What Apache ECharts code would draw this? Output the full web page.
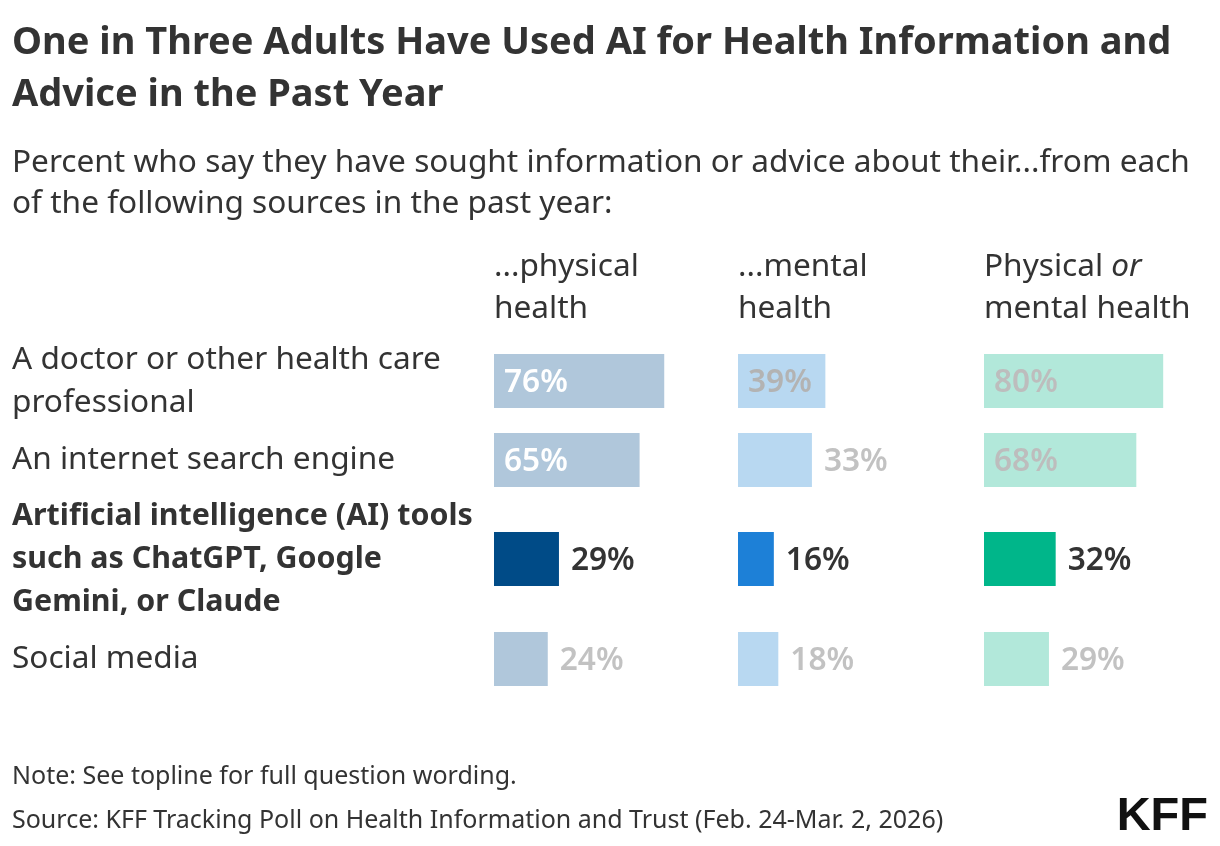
<!DOCTYPE html>
<html>
<head>
<meta charset="utf-8">
<script src="https://cdn.jsdelivr.net/npm/echarts@6/dist/echarts.min.js"></script>
<style>
html,body{margin:0;padding:0;background:#fff;}
#chart{width:1220px;height:846px;}
</style>
</head>
<body>
<div id="chart"></div>
<script>
// ---- Data ----
const categories = [
  "A doctor or other health care\nprofessional",
  "An internet search engine",
  "Artificial intelligence (AI) tools\nsuch as ChatGPT, Google\nGemini, or Claude",
  "Social media"
];
const physicalHealth = [76, 65, 29, 24];
const mentalHealth = [39, 33, 16, 18];
const physicalOrMental = [80, 68, 32, 29];
const highlightRow = 2;
const columnHeaders = ["...physical\nhealth", "...mental\nhealth", "Physical {i|or}\nmental health"];

const titleText = "One in Three Adults Have Used AI for Health Information and\nAdvice in the Past Year";
const subtitleText = "Percent who say they have sought information or advice about their...from each\nof the following sources in the past year:";
const noteText = "Note: See topline for full question wording.";
const sourceText = "Source: KFF Tracking Poll on Health Information and Trust (Feb. 24-Mar. 2, 2026)";

// ---- Style / layout ----
const FONT = "'Noto Sans', 'Source Sans Pro', Lato, sans-serif";
const TEXT = "#333333";
const BODY = 31.6;
const columns = [
  {values: physicalHealth, left: 494, faded: "#b0c7db", strong: "#004b87", insideColor: "#ffffff"},
  {values: mentalHealth, left: 738, faded: "#b8d8f1", strong: "#1d80d7", insideColor: "#b3b3b3"},
  {values: physicalOrMental, left: 984, faded: "#b2e8da", strong: "#00b68a", insideColor: "#bdbdbd"}
];
const rowCenters = [381, 460, 559, 659];
const barH = 54;
const colWidth = 224;
const insideThreshold = 35;

const grids = [], xAxes = [], yAxes = [], series = [];
columns.forEach((col, c) => {
  rowCenters.forEach((cy, r) => {
    const gi = grids.length;
    const hi = r === highlightRow;
    grids.push({left: col.left, top: cy - barH / 2, width: colWidth, height: barH, containLabel: false});
    xAxes.push({type: 'value', gridIndex: gi, min: 0, max: 100, show: false});
    yAxes.push({
      type: 'category', gridIndex: gi, data: [categories[r]],
      axisLine: {show: false}, axisTick: {show: false}, splitLine: {show: false},
      axisLabel: {
        show: c === 0, align: 'left', margin: col.left - 12,
        fontFamily: FONT, fontSize: hi ? 30.4 : BODY, lineHeight: 43, color: TEXT,
        padding: [8, 0, 0, 0],
        fontWeight: hi ? 'bold' : 'normal'
      }
    });
    const v = col.values[r];
    const inside = !hi && v >= insideThreshold;
    series.push({
      type: 'bar', xAxisIndex: gi, yAxisIndex: gi, barWidth: '100%',
      silent: true,
      data: [{
        value: v,
        itemStyle: {color: hi ? col.strong : col.faded},
        label: {
          show: true,
          position: inside ? 'insideLeft' : 'right',
          distance: inside ? 10 : 12,
          offset: [0, 2],
          formatter: '{c}%',
          fontFamily: FONT, fontSize: BODY, fontWeight: 600,
          color: hi ? TEXT : (inside ? col.insideColor : '#c2c2c2')
        }
      }]
    });
  });
});

const titles = [
  {text: titleText, left: 12, top: 17, padding: 0,
   textStyle: {fontFamily: FONT, fontSize: 38, fontWeight: 'bold', color: TEXT, lineHeight: 52}},
  {text: subtitleText, left: 12, top: 142, padding: 0,
   textStyle: {fontFamily: FONT, fontSize: BODY, fontWeight: 'normal', color: TEXT, lineHeight: 41}},
  {text: noteText, left: 12, top: 764, padding: 0,
   textStyle: {fontFamily: FONT, fontSize: 25, fontWeight: 'normal', color: TEXT}},
  {text: sourceText, left: 12, top: 808, padding: 0,
   textStyle: {fontFamily: FONT, fontSize: 25, fontWeight: 'normal', color: TEXT}},
  {text: "KFF", right: 12, top: 794, padding: 0,
   textStyle: {fontFamily: "'Liberation Sans', Arial, sans-serif", fontSize: 47, fontWeight: 'bold', color: '#111111'}}
];
columns.forEach((col, c) => {
  titles.push({
    text: columnHeaders[c], left: col.left, top: 246, padding: 0,
    textStyle: {fontFamily: FONT, fontSize: BODY, fontWeight: 'normal', color: TEXT, lineHeight: 42,
      rich: {i: {fontFamily: FONT, fontSize: BODY, fontStyle: 'italic', color: TEXT, lineHeight: 42}}}
  });
});

const chart = echarts.init(document.getElementById('chart'), null, {renderer: 'canvas'});
chart.setOption({
  animation: false,
  backgroundColor: '#ffffff',
  title: titles,
  grid: grids,
  xAxis: xAxes,
  yAxis: yAxes,
  series: series
});
</script>
</body>
</html>
